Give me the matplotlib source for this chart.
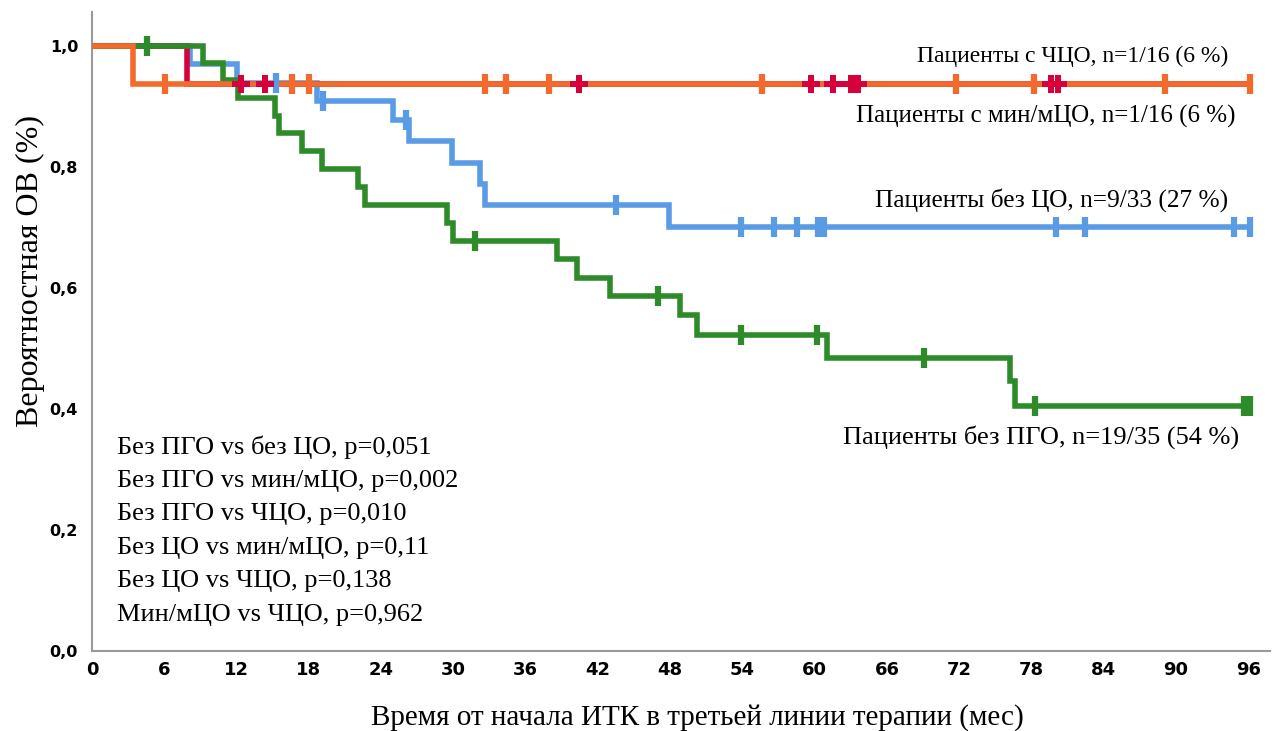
import numpy as np
import matplotlib.pyplot as plt

# Kaplan-Meier curves: event times (months) and survival after each event
green_t = [9.2, 10.9, 12.1, 15.2, 15.5, 17.4, 19.1, 22.1, 22.7, 29.5, 30.0,
           38.6, 40.3, 43.0, 48.8, 50.2, 61.0, 76.2, 76.6]
green_s = [0.971, 0.943, 0.914, 0.884, 0.856, 0.826, 0.796, 0.767, 0.737, 0.707,
           0.678, 0.648, 0.617, 0.587, 0.555, 0.522, 0.485, 0.447, 0.405]
green_c = [4.6, 31.8, 47.0, 53.9, 60.2, 69.1, 78.3, 95.6, 96.1]

blue_t = [8.1, 12.0, 18.7, 25.0, 26.3, 29.9, 32.2, 32.6, 47.9]
blue_s = [0.970, 0.939, 0.909, 0.877, 0.843, 0.807, 0.772, 0.737, 0.700]
blue_c = [15.3, 19.2, 26.1, 43.5, 53.9, 56.6, 58.5, 60.3, 60.8, 80.0, 82.4, 94.8, 96.1]

red_t = [7.9]
red_s = [0.9375]
red_c = [12.4, 14.4, 40.4, 59.7, 61.5, 63.0, 63.3, 63.6, 79.6, 80.2]

orange_t = [3.4]
orange_s = [0.9375]
orange_c = [6.1, 16.6, 18.0, 32.6, 34.4, 37.9, 55.6, 71.7, 78.2, 89.1, 96.1]

green_label = 'Пациенты без ПГО, n=19/35 (54 %)'
blue_label = 'Пациенты без ЦО, n=9/33 (27 %)'
red_label = 'Пациенты с мин/мЦО, n=1/16 (6 %)'
orange_label = 'Пациенты с ЧЦО, n=1/16 (6 %)'

pvalues = ['Без ПГО vs без ЦО, p=0,051',
           'Без ПГО vs мин/мЦО, p=0,002',
           'Без ПГО vs ЧЦО, p=0,010',
           'Без ЦО vs мин/мЦО, p=0,11',
           'Без ЦО vs ЧЦО, p=0,138',
           'Мин/мЦО vs ЧЦО, p=0,962']

xticks = np.arange(0, 97, 6)
yticks = np.arange(0, 1.01, 0.2)
t_end = 96.1


def km_step(times, surv):
    x = np.concatenate([[0], times, [t_end]])
    y = np.concatenate([[1.0], surv, [surv[-1]]])
    return x, y


def at(times, surv, t):
    idx = np.searchsorted(times, t, side='right')
    return np.where(idx == 0, 1.0, np.asarray(surv)[np.maximum(idx - 1, 0)])


fig = plt.figure(figsize=(12.74, 7.31), dpi=100)
ax = fig.add_axes([0.0722, 0.1094, 0.9247, 0.8742])

curves = [
    (blue_t, blue_s, blue_c, '#5a9be6', '|', 3),
    (red_t, red_s, red_c, '#d8003a', 'P', 4),
    (green_t, green_s, green_c, '#2e8b2a', '|', 5),
    (orange_t, orange_s, orange_c, '#f26a2c', '|', 6),
]
for t, s, c, col, mk, z in curves:
    x, y = km_step(t, s)
    ax.step(x, y, where='post', color=col, lw=4, zorder=z,
            solid_joinstyle='miter')
    cy = at(t, s, np.array(c))
    if mk == 'P':
        ax.plot(c, cy, ls='none', marker='P', ms=13, mew=0, color=col, zorder=10)
    else:
        ax.plot(c, cy, ls='none', marker='|', ms=14, mew=4.5, color=col, zorder=9)

serif = 'Liberation Serif'
ax.text(94.35, 0.983, orange_label, ha='right', va='center', fontsize=17, family=serif)
ax.text(94.9, 0.883, red_label, ha='right', va='center', fontsize=18, family=serif)
ax.text(94.35, 0.745, blue_label, ha='right', va='center', fontsize=18.3, family=serif)
ax.text(95.2, 0.354, green_label, ha='right', va='center', fontsize=19, family=serif)
for i, line in enumerate(pvalues):
    ax.text(2.08, 0.337 - i * 0.0555, line, ha='left', va='center',
            fontsize=19, family=serif)

ax.set_xlim(0, 97.8)
ax.set_ylim(0, 1.056)
ax.set_xticks(xticks)
ax.set_yticks(yticks)
ax.set_yticklabels([f'{v:.1f}'.replace('.', ',') for v in yticks],
                   fontweight='bold', fontsize=11.5, family='DejaVu Sans')
ax.set_xticklabels([str(v) for v in xticks], fontweight='bold', fontsize=13,
                   family=['Liberation Sans Narrow', 'DejaVu Sans Condensed', 'DejaVu Sans'])
ax.tick_params(length=0)
ax.tick_params(axis='x', pad=7)
ax.tick_params(axis='y', pad=10)
for side in ['top', 'right']:
    ax.spines[side].set_visible(False)
for side in ['left', 'bottom']:
    ax.spines[side].set_color('#999999')
    ax.spines[side].set_linewidth(1.5)

ax.set_xlabel('Время от начала ИТК в третьей линии терапии (мес)', family=serif,
              fontsize=21, va='center')
ax.set_ylabel('Вероятностная ОВ (%)', family=serif, fontsize=23, va='center')
ax.xaxis.set_label_coords(0.514, -0.1033)
ax.yaxis.set_label_coords(-0.0526, 0.595)

fig.savefig('out.png', dpi=100)
